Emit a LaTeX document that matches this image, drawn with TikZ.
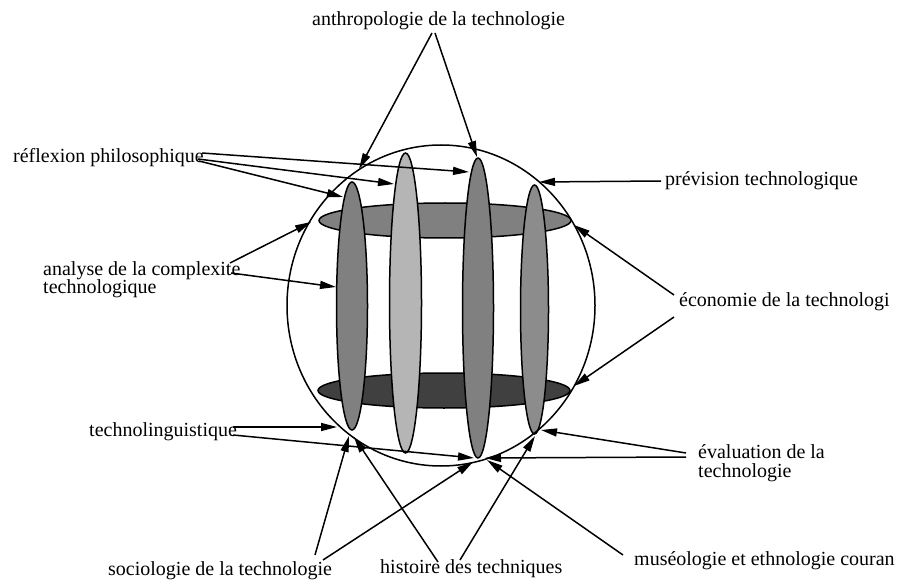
\documentclass[tikz,border=0pt]{standalone}
\usepackage{fontspec}
\setmainfont{Liberation Serif}
\usetikzlibrary{arrows.meta,shapes.geometric}
\definecolor{gmid}{gray}{0.5}
\definecolor{glight}{gray}{0.71}
\definecolor{gD}{gray}{0.55}
\definecolor{gdark}{gray}{0.25}
\begin{document}
\begin{tikzpicture}[x=1pt,y=-1pt,
  lbl/.style={anchor=base west,inner sep=0pt,font=\fontsize{20}{18.5}\selectfont,align=left},
  arr/.style={line width=1.5pt,-{Triangle[length=16pt,width=8pt]}},
  ell/.style={ellipse,draw,line width=1.5pt,inner sep=0pt},
]
\useasboundingbox (0,0) rectangle (897,580);
\fill[white] (0,0) rectangle (897,580);

% horizontal rings
\node[ell,fill=gmid,minimum width=252pt,minimum height=35pt] (ringtop) at (445,220.5) {};
\node[ell,fill=gdark,minimum width=252pt,minimum height=35pt] (ringbot) at (444,390.5) {};
% vertical ellipses
\node[ell,fill=gmid,minimum width=31pt,minimum height=248pt] (ellA) at (352,306) {};
\node[ell,fill=glight,minimum width=32pt,minimum height=300pt] (ellB) at (405.5,303) {};
\node[ell,fill=gmid,minimum width=31pt,minimum height=300pt] (ellC) at (478,308) {};
\node[ell,fill=gD,minimum width=28pt,minimum height=249pt] (ellD) at (534.5,309.5) {};
% sphere
\node[ell,minimum width=308pt,minimum height=321pt] (sphere) at (441,305.5) {};

% labels (base anchor = baseline of last line)
\node[lbl] (anthro) at (312,26) {anthropologie de la technologie};
\node[lbl] (reflex) at (13,163) {réflexion philosophique};
\node[lbl] (analyse) at (43,293.5) {analyse de la complexite\\technologique};
\node[lbl] (prevision) at (665,186) {prévision technologique};
\node[lbl] (economie) at (679,306.5) {économie de la technologi};
\node[lbl] (linguist) at (89,436) {technolinguistique};
\node[lbl] (evaluation) at (698,477) {évaluation de la\\technologie};
\node[lbl] (sociologie) at (108,575) {sociologie de la technologie};
\node[lbl] (histoire) at (380,573) {histoire des techniques};
\node[lbl] (museo) at (634,565) {muséologie et ethnologie couran};

% start points
\coordinate (anS1) at (432,33);
\coordinate (anS2) at (435,33);
\coordinate (reS1) at (202,153);
\coordinate (reS2) at (198,159);
\coordinate (reS3) at (199,161);
\coordinate (alS1) at (230,263);
\coordinate (alS2) at (231,273);
\coordinate (prS) at (661,181);
\coordinate (ecS1) at (674,295);
\coordinate (ecS2) at (674,317);
\coordinate (tlS1) at (233,427);
\coordinate (tlS2) at (233,435);
\coordinate (evS1) at (686,453);
\coordinate (evS2) at (686,457);
\coordinate (soS1) at (315,555);
\coordinate (soS2) at (323,560);
\coordinate (hiS1) at (438,562);
\coordinate (hiS2) at (460,560);
\coordinate (muS) at (623,555);

% tips
\coordinate (anT1) at (359,169);
\coordinate (anT2) at (477,157);
\coordinate (reT1) at (469,172);
\coordinate (reT2) at (394,184);
\coordinate (reT3) at (343,197);
\coordinate (alT1) at (311,222);
\coordinate (alT2) at (336,287);
\coordinate (prT) at (539,182);
\coordinate (ecT1) at (574,225);
\coordinate (ecT2) at (574,386);
\coordinate (tlT1) at (337,427);
\coordinate (tlT2) at (474,458);
\coordinate (evT1) at (541,430);
\coordinate (evT2) at (485,458);
\coordinate (soT1) at (349,436);
\coordinate (soT2) at (473,462);
\coordinate (hiT1) at (354,437);
\coordinate (hiT2) at (535,436);
\coordinate (muT) at (487,460);

\draw[arr] (anS1) -- (anT1);
\draw[arr] (anS2) -- (anT2);
\draw[arr] (reS1) -- (reT1);
\draw[arr] (reS2) -- (reT2);
\draw[arr] (reS3) -- (reT3);
\draw[arr] (alS1) -- (alT1);
\draw[arr] (alS2) -- (alT2);
\draw[arr] (prS) -- (prT);
\draw[arr] (ecS1) -- (ecT1);
\draw[arr] (ecS2) -- (ecT2);
\draw[arr] (tlS1) -- (tlT1);
\draw[arr] (tlS2) -- (tlT2);
\draw[arr] (evS1) -- (evT1);
\draw[arr] (evS2) -- (evT2);
\draw[arr] (soS1) -- (soT1);
\draw[arr] (soS2) -- (soT2);
\draw[arr] (hiS1) -- (hiT1);
\draw[arr] (hiS2) -- (hiT2);
\draw[arr] (muS) -- (muT);
\end{tikzpicture}
\end{document}
